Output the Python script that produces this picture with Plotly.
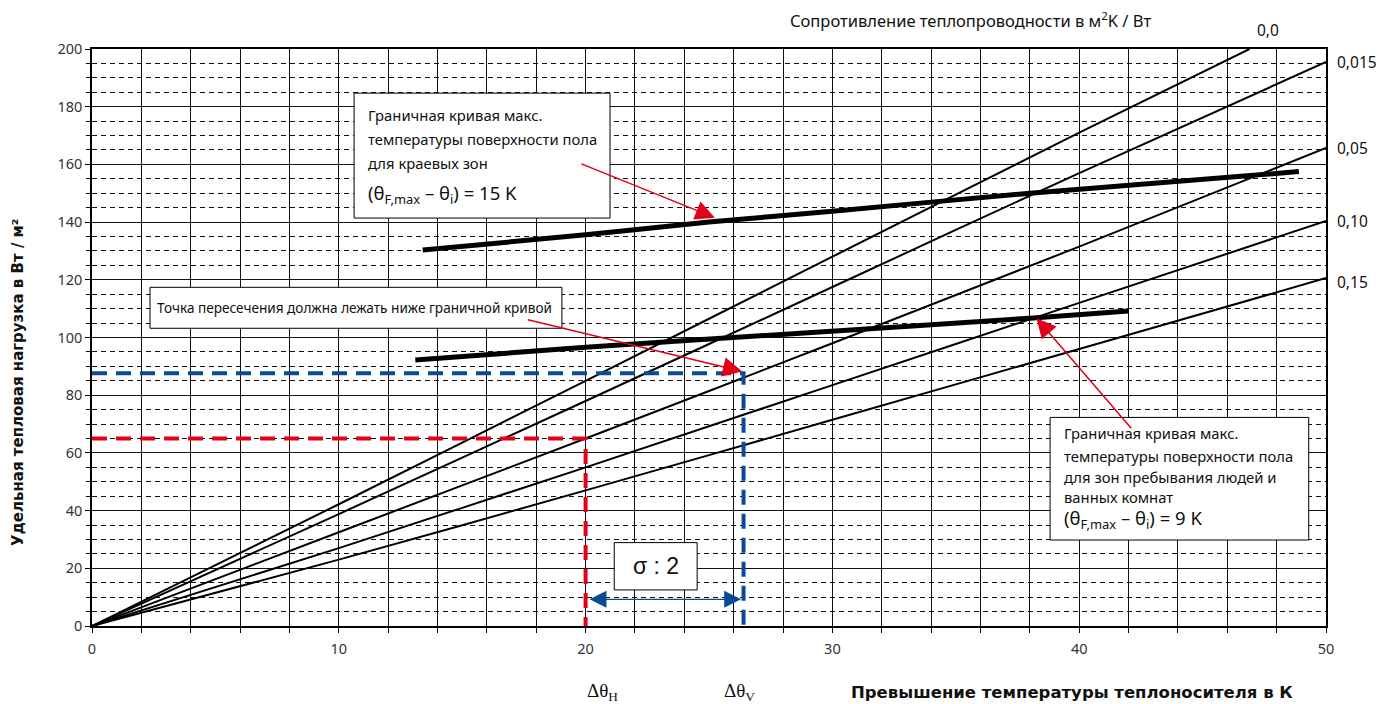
import plotly.graph_objects as go

# ---------------- data ----------------
x_ticks = [0, 10, 20, 30, 40, 50]
y_ticks = [0, 20, 40, 60, 80, 100, 120, 140, 160, 180, 200]

# resistance curves (heat flux vs. excess temperature)
r_labels = ["0,0", "0,015", "0,05", "0,10", "0,15"]
r00_x = [0, 10, 20, 30, 40, 46.9]
r00_y = [0, 42.2, 85, 128, 171, 200]
r015_x = [0, 10, 20, 30, 40, 50]
r015_y = [0, 38.8, 78, 117.5, 157, 195.5]
r05_x = [0, 10, 20, 30, 40, 50]
r05_y = [0, 32.5, 65, 98, 131.5, 165.7]
r10_x = [0, 10, 20, 30, 40, 50]
r10_y = [0, 27, 55, 83.5, 112, 140.4]
r15_x = [0, 10, 20, 30, 40, 50]
r15_y = [0, 23, 47, 71.5, 96, 120.6]

# limit curves
lim15_x = [13.4, 20, 25, 30, 38, 48.9]
lim15_y = [130.3, 135.6, 140.0, 143.8, 150.0, 157.5]
lim9_x = [13.1, 20, 28.7, 38, 42]
lim9_y = [92.2, 96.6, 101.5, 106.7, 109.2]

# design points
red_x = [0, 20, 20]
red_y = [65, 65, 0]
blue_x = [0, 26.4, 26.4]
blue_y = [87.6, 87.6, 0]

FONT = "'Noto Sans', sans-serif"
BOLD = "'DejaVu Sans', sans-serif"
SERIF = "'Liberation Serif', serif"
RED = "#e2001a"
BLUE = "#0b4a96"

fig = go.Figure()

for xs, ys in [(r00_x, r00_y), (r015_x, r015_y), (r05_x, r05_y), (r10_x, r10_y), (r15_x, r15_y)]:
    fig.add_trace(go.Scatter(x=xs, y=ys, mode="lines", line=dict(color="black", width=2, shape="spline", smoothing=0.6),
                             hoverinfo="skip", showlegend=False, cliponaxis=True))

for xs, ys in [(lim15_x, lim15_y), (lim9_x, lim9_y)]:
    fig.add_trace(go.Scatter(x=xs, y=ys, mode="lines", line=dict(color="black", width=5, shape="spline", smoothing=0.6),
                             hoverinfo="skip", showlegend=False))

fig.add_trace(go.Scatter(x=red_x, y=red_y, mode="lines", line=dict(color=RED, width=4, dash="15px,9px"),
                         hoverinfo="skip", showlegend=False))
fig.add_trace(go.Scatter(x=blue_x, y=blue_y, mode="lines", line=dict(color=BLUE, width=4, dash="15px,9px"),
                         hoverinfo="skip", showlegend=False))

# ---------------- boxes ----------------
boxes = [
    (10.62, 20.99, 141.4, 184.7),
    (2.35, 19.04, 103.2, 117.4),
    (38.82, 49.3, 29.8, 72.3),
    (21.16, 24.52, 12.5, 28.9),
]
for x0, x1, y0, y1 in boxes:
    fig.add_shape(type="rect", xref="x", yref="y", x0=x0, x1=x1, y0=y0, y1=y1,
                  line=dict(color="black", width=1), fillcolor="white", layer="above")

ann = []
def txt(x, y, t, size=14.8, xanchor="left", yanchor="middle", color="#111", family=FONT, ref="x", **kw):
    ann.append(dict(x=x, y=y, xref=ref, yref=("y" if ref == "x" else "paper"), text=t, showarrow=False,
                    xanchor=xanchor, yanchor=yanchor, font=dict(family=family, size=size, color=color), **kw))

# box 1
txt(11.1, 177.1, "Граничная кривая макс.")
txt(11.1, 168.7, "температуры поверхности пола")
txt(11.1, 160.5, "для краевых зон")
txt(11.1, 149.8, "(θ<sub>F,max</sub> – θ<sub>i</sub>) = 15 K", size=18.5)
# box 2
txt(2.55, 110.3, "Точка пересечения должна лежать ниже граничной кривой", size=13.6)
# box 3
txt(39.3, 66.9, "Граничная кривая макс.")
txt(39.3, 59.0, "температуры поверхности пола")
txt(39.3, 51.7, "для зон пребывания людей и")
txt(39.3, 44.6, "ванных комнат")
txt(39.3, 37.0, "(θ<sub>F,max</sub> – θ<sub>i</sub>) = 9 K", size=18.5)
# sigma box
txt(22.84, 20.8, "σ : 2", size=23, xanchor="center", family="'Liberation Sans', sans-serif")

# curve labels (outside the plot: paper coordinates)
txt(0.953, 1.033, r_labels[0], size=15.5, xanchor="center", ref="paper")
txt(1.007, 0.9775, r_labels[1], size=15.5, ref="paper")
txt(1.007, 0.8284, r_labels[2], size=15.5, ref="paper")
txt(1.007, 0.7019, r_labels[3], size=15.5, ref="paper")
txt(1.007, 0.5962, r_labels[4], size=15.5, ref="paper")
txt(0.7123, 1.0503, "Сопротивление теплопроводности в м<sup>2</sup>K / Вт", size=16.5, xanchor="center", ref="paper")

# axis titles & delta labels
txt(0.7942, -0.1144, "<b>Превышение температуры теплоносителя в К</b>", size=16.5, xanchor="center", family=BOLD, ref="paper")
txt(0.4141, -0.1144, "Δθ<sub>H</sub>", size=19, xanchor="center", family=SERIF, ref="paper")
txt(0.5251, -0.1144, "Δθ<sub>V</sub>", size=19, xanchor="center", family=SERIF, ref="paper")
ann.append(dict(x=-0.0600, y=0.423, xref="paper", yref="paper", xanchor="center", yanchor="middle",
                text="<b>Удельная тепловая нагрузка в Вт / м²</b>",
                showarrow=False, textangle=-90, font=dict(family=BOLD, size=15, color="#111")))

# arrows
def arrow(x, y, ax, ay, color, width=1.5, side="end", head=2, size=2.6):
    ann.append(dict(x=x, y=y, ax=ax, ay=ay, xref="x", yref="y", axref="x", ayref="y", text="",
                    showarrow=True, arrowcolor=color, arrowwidth=width, arrowhead=head,
                    arrowsize=size, arrowside=side, startarrowhead=head, startarrowsize=size))

arrow(25.24, 141.5, 19.77, 160.4, RED)
arrow(26.35, 88.2, 17.6, 106.3, RED)
arrow(38.27, 106.7, 42.16, 68.0, RED)
arrow(26.3, 9.25, 20.1, 9.25, BLUE, width=1.3, side="end+start", size=2.6)

fig.update_layout(
    width=1376, height=696,
    margin=dict(l=84, r=58, t=41, b=78),
    paper_bgcolor="white", plot_bgcolor="white",
    annotations=ann,
    font=dict(family=FONT, size=13, color="#222"),
    xaxis=dict(range=[0, 50], tickvals=x_ticks, showgrid=True, gridcolor="#111", gridwidth=1,
               showline=True, linecolor="black", linewidth=1.5, mirror=True,
               ticks="outside", ticklen=5, tickcolor="black", zeroline=False, ticklabelstandoff=4,
               tickfont=dict(family=FONT, size=14.5, color="#333"),
               minor=dict(dtick=2, showgrid=True, gridcolor="#111", gridwidth=1,
                          ticks="outside", ticklen=5, tickcolor="black")),
    yaxis=dict(range=[0, 200], tickvals=y_ticks, showgrid=True, gridcolor="#111", gridwidth=1,
               showline=True, linecolor="black", linewidth=1.5, mirror=True,
               ticks="outside", ticklen=5, tickcolor="black", zeroline=False,
               tickfont=dict(family=FONT, size=14.5, color="#333"),
               minor=dict(dtick=5, showgrid=True, gridcolor="#111", gridwidth=1, griddash="5px,4px",
                          ticks="outside", ticklen=4, tickcolor="black")),
    showlegend=False,
)

fig.write_html("out.html")
